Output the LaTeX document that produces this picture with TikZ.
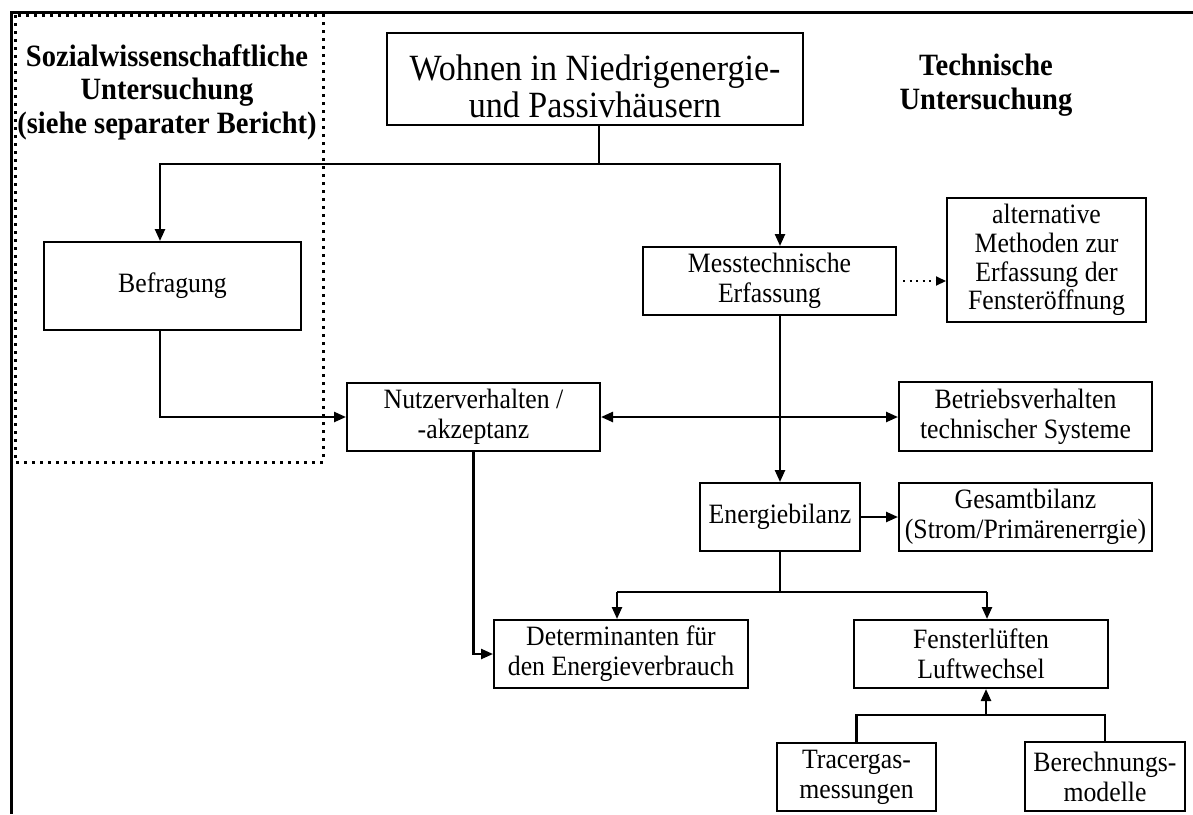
\documentclass[tikz,border=0pt]{standalone}
\usepackage{fontspec}
\setmainfont{Liberation Serif}[FakeStretch=0.92]
\usetikzlibrary{calc}
\usetikzlibrary{arrows.meta}

\tikzset{
  box/.style={draw, line width=2pt, align=center, inner sep=0pt, font=\fontsize{28}{30}\selectfont},
  link/.style={line width=2.4pt, -{Triangle[length=12pt,width=10pt]}},
  twolink/.style={line width=2.4pt, {Triangle[length=12pt,width=10pt]}-{Triangle[length=12pt,width=10pt]}},
  plain/.style={line width=2.4pt},
  heading/.style={align=center, font=\fontsize{31}{33.5}\selectfont\bfseries}
}

\begin{document}
\begin{tikzpicture}[x=1pt,y=-1pt]

\useasboundingbox (0,0) rectangle (1193,814);

% frame and dotted area
\draw[line width=3pt] (1193,12) -- (11,12) -- (11,814);
\draw[line width=3pt, dash pattern=on 3pt off 5pt] (15,15) rectangle (323,462);

\node[heading] (sozial) at (167,92) {Sozialwissenschaftliche\\Untersuchung\\(siehe separater Bericht)};
\node[heading] (tech) at (986,85) {Technische\\Untersuchung};

\node[box, minimum width=416pt, minimum height=92pt] (title) at (595,79) {};
\node[align=center, inner sep=0pt, font=\fontsize{37}{37}\selectfont] (titletext) at (595,86) {Wohnen in Niedrigenergie-\\und Passivhäusern};

\node[box, minimum width=257pt, minimum height=88pt] (befr) at (172.5,286) {Befragung};
\node[box, minimum width=253pt, minimum height=68pt] (mess) at (769.5,281) {Messtechnische\\Erfassung};
\node[box, minimum width=199pt, minimum height=124pt, font=\fontsize{28}{28.7}\selectfont] (alt) at (1046.5,260) {alternative\\Methoden zur\\Erfassung der\\Fensteröffnung};
\node[box, minimum width=253pt, minimum height=68pt] (nutz) at (473.5,417) {Nutzerverhalten /\\-akzeptanz};
\node[box, minimum width=253pt, minimum height=69pt] (betr) at (1025.5,416.5) {Betriebsverhalten\\technischer Systeme};
\node[box, minimum width=160pt, minimum height=68pt] (ebil) at (780,517) {Energiebilanz};
\node[box, minimum width=253pt, minimum height=68pt] (gesb) at (1025.5,517) {Gesamtbilanz\\(Strom/Primärenerrgie)};
\node[box, minimum width=254pt, minimum height=68pt] (dete) at (621,654) {Determinanten für\\den Energieverbrauch};
\node[box, minimum width=254pt, minimum height=68pt] (fens) at (981,654) {Fensterlüften\\Luftwechsel};
\node[box, minimum width=159pt, minimum height=68pt] (trac) at (856.5,777) {Tracergas-\\messungen};
\node[box, minimum width=160pt, minimum height=69pt] (bere) at (1105,776.5) {Berechnungs-\\modelle};

\coordinate (split) at (599,164);
\coordinate (sl) at (160,164);
\coordinate (sr) at (780,164);
\coordinate (bl) at (160,417);
\coordinate (e1) at (780,592);
\coordinate (dl) at (617,592);
\coordinate (dr) at (987,592);
\coordinate (f1) at (986,715);

\draw[plain] (split |- title.south) -- (split);
\draw[link] (split) -- (sl) -- (sl |- befr.north);
\draw[link] (split) -- (sr) -- (sr |- mess.north);
\draw[link] (sl |- befr.south) -- (bl) -- (nutz.west);
\draw[line width=2pt, dash pattern=on 2pt off 4.5pt, shorten <=6pt, -{Triangle[length=10pt,width=9pt]}] (mess.east) -- (mess.east -| alt.west);
\draw[link] (ebil.north |- mess.south) -- (ebil.north);
\draw[twolink] (nutz.east) -- (nutz.east -| betr.west);
\draw[link] (ebil.east) -- (gesb.west);
\draw[plain] (ebil.south) -- (e1);
\draw[plain] (dl) -- (dr);
\draw[link] (dl) -- (dl |- dete.north);
\draw[link] (dr) -- (dr |- fens.north);
\draw[link] (nutz.south) |- (dete.west);
\draw[plain] (trac.north) |- (bere.north |- f1) -- (bere.north);
\draw[link] (f1) -- (f1 |- fens.south);

\end{tikzpicture}
\end{document}
